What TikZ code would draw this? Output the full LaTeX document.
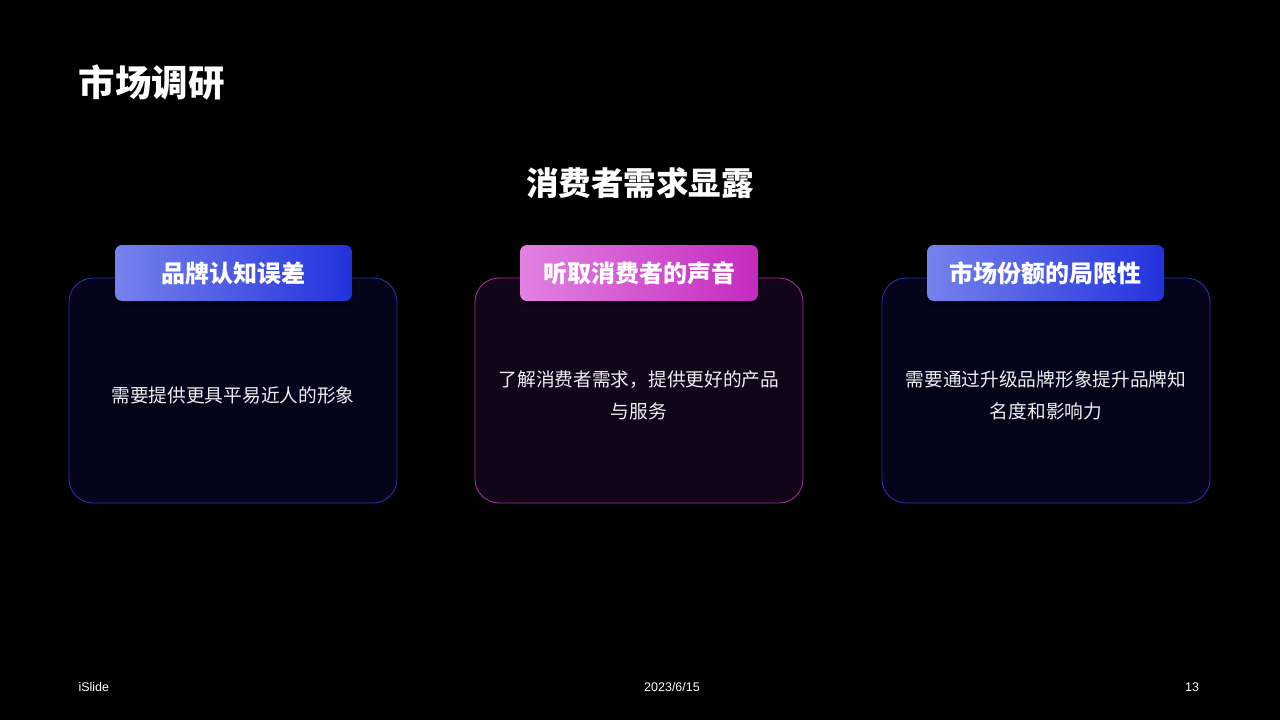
\documentclass[tikz,border=0pt]{standalone}
\usepackage{fontspec}
\setmainfont{Noto Sans CJK SC}
\setsansfont{Noto Sans CJK SC}
\newfontfamily\latinsf{Liberation Sans}
\usetikzlibrary{shadows.blur}
\definecolor{bluecardfill}{HTML}{04041A}
\definecolor{bluecardline}{HTML}{2A30A8}
\definecolor{pinkcardfill}{HTML}{12051A}
\definecolor{pinkcardline}{HTML}{A02E98}
\definecolor{bluetabA}{HTML}{7682EC}
\definecolor{bluetabB}{HTML}{2232DC}
\definecolor{pinktabA}{HTML}{E282E2}
\definecolor{pinktabB}{HTML}{C42ABE}
\definecolor{bodytext}{HTML}{EEEEF2}
\tikzset{
  card/.style={draw, line width=0.9pt, rounded corners=24pt},
  tab/.style={rounded corners=7pt, shading angle=60},
  tabtext/.style={text=white, font=\fontsize{24}{28}\selectfont\bfseries, anchor=center},
  bodytxt/.style={text=bodytext, font=\fontsize{18.7}{32}\selectfont, align=center, anchor=center},
  foot/.style={text=white, font=\latinsf\fontsize{12.5}{14}\selectfont}
}
\begin{document}
\begin{tikzpicture}[x=1pt,y=-1pt]
\fill[black] (0,0) rectangle (1280,720);
\useasboundingbox (0,0) rectangle (1280,720);

\node[text=white, font=\fontsize{36.5}{40}\selectfont\bfseries, anchor=west] (title) at (75,83) {市场调研};
\node[text=white, font=\fontsize{32.5}{36}\selectfont\bfseries] (subtitle) at (640,183) {消费者需求显露};

% card 1
\draw[card, draw=bluecardline, fill=bluecardfill] (69,278) rectangle (397,503);
\shade[tab, left color=bluetabA, right color=bluetabB, blur shadow={shadow blur steps=8, shadow xshift=0pt, shadow yshift=-4pt, shadow opacity=35}] (115,245) rectangle (352,301);
\node[tabtext] (t1) at (233.5,273) {品牌认知误差};
\node[bodytxt] (b1) at (233,395) {需要提供更具平易近人的形象};

% card 2
\draw[card, draw=pinkcardline, fill=pinkcardfill] (475,278) rectangle (803,503);
\shade[tab, left color=pinktabA, right color=pinktabB, blur shadow={shadow blur steps=8, shadow xshift=0pt, shadow yshift=-4pt, shadow opacity=35}] (520,245) rectangle (758,301);
\node[tabtext] (t2) at (639,273) {听取消费者的声音};
\node[bodytxt] (b2) at (639,395) {了解消费者需求，提供更好的产品\\与服务};

% card 3
\draw[card, draw=bluecardline, fill=bluecardfill] (882,278) rectangle (1210,503);
\shade[tab, left color=bluetabA, right color=bluetabB, blur shadow={shadow blur steps=8, shadow xshift=0pt, shadow yshift=-4pt, shadow opacity=35}] (927,245) rectangle (1164,301);
\node[tabtext] (t3) at (1045.5,273) {市场份额的局限性};
\node[bodytxt] (b3) at (1046,395) {需要通过升级品牌形象提升品牌知\\名度和影响力};

% footer
\node[foot, anchor=west] (f1) at (75,687) {iSlide};
\node[foot] (f2) at (672,687) {2023/6/15};
\node[foot] (f3) at (1192,687) {13};
\end{tikzpicture}
\end{document}
